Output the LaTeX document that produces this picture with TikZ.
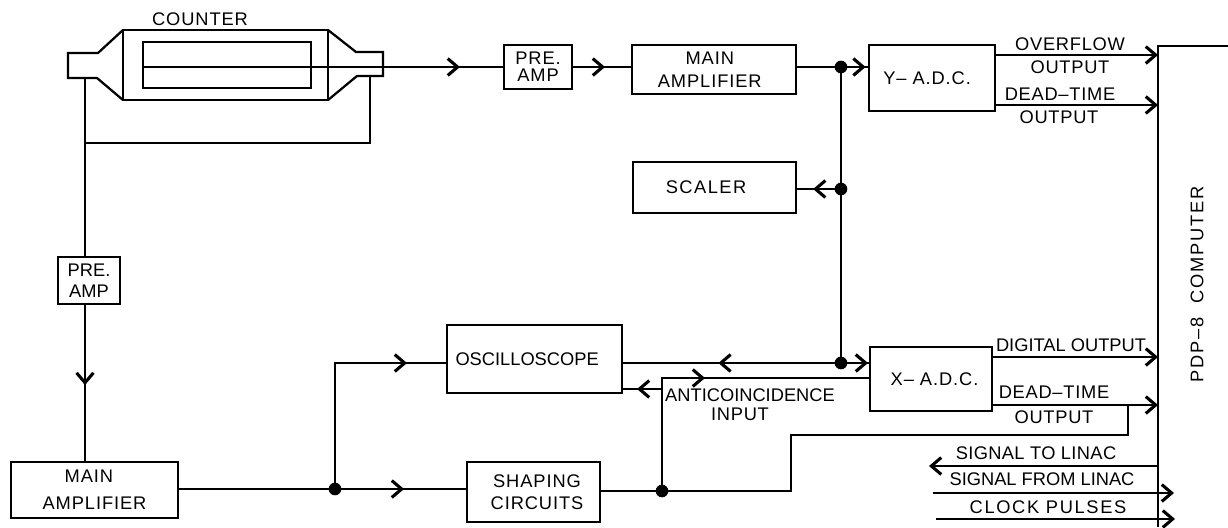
\documentclass[tikz,border=0pt]{standalone}
\usepackage{fontspec}
\setmainfont{Liberation Sans}
\usetikzlibrary{arrows.meta,decorations.markings}
\tikzset{
    txt/.style={font=\fontsize{13}{16}\selectfont, inner sep=0pt, align=center},
    wide/.style={txt, font=\fontsize{13}{16}\selectfont\addfontfeature{LetterSpace=#1}},
    box/.style={wide=5, draw, line width=1.6pt, outer sep=0pt},
    dot/.style={circle, fill=black, inner sep=0pt, minimum size=9pt},
    midtip/.style={postaction={decorate, decoration={markings, mark=at position #1 with {\arrow{>}}}}}
}

\begin{document}
\begin{tikzpicture}[x=0.025cm, y=-0.025cm, line width=1.6pt, line join=miter,
    >={Straight Barb[length=7pt, width=12pt, line width=2.2pt]}]
    \useasboundingbox (0,0) rectangle (1228,527);

    % counter
    \node[box, minimum width=5.125cm, minimum height=1.75cm] (counter) at (225.5,65) {};
    \node[box, minimum width=4.2cm, minimum height=1.15cm] (tube) at (227,65) {};
    \node[wide=5] (counterlabel) at (200,19) {COUNTER};
    \draw (counter.north west) -- (98,53) -- (68,53) -- (68,78) -- (97,78) -- (counter.south west);
    \draw (counter.north east) -- (356,52) -- (383,52) -- (383,76) -- (357,76) -- (counter.south east);

    % boxes
    \node[box, minimum width=1.7cm, minimum height=1.1cm] (preamptop) at (538,67) {PRE.\\[-4pt]AMP};
    \node[box, minimum width=4.1cm, minimum height=1.225cm] (mainamptop) at (714,69.5) {MAIN\hspace*{6pt}\\AMPLIFIER\hspace*{6pt}};
    \node[box, minimum width=3.15cm, minimum height=1.65cm] (yadc) at (932,78) {\raisebox{-3pt}{Y--\ A.D.C.}\hspace*{7pt}};
    \node[box, wide=8, minimum width=4.075cm, minimum height=1.275cm] (scaler) at (714.5,187.5) {SCALER\hspace*{12pt}};
    \node[box, txt, minimum width=4.375cm, minimum height=1.7cm] (osc) at (534.5,359) {\raisebox{-2pt}{OSCILLOSCOPE}\hspace*{10.5pt}};
    \node[box, minimum width=3.325cm, minimum height=1.5cm] (shaping) at (533.5,492) {\hspace*{5pt}SHAPING\\\hspace*{5pt}CIRCUITS};
    \node[box, minimum width=3.05cm, minimum height=1.6cm] (xadc) at (931,379) {\hspace*{5pt}X--\ A.D.C.};
    \node[box, minimum width=4.175cm, minimum height=1.4cm] (mainampleft) at (94.5,490) {MAIN\hspace*{8pt}\\[3pt]AMPLIFIER};
    \node[box, txt, minimum width=1.55cm, minimum height=1.175cm] (preampleft) at (89,280.5) {PRE.\\[-1pt]AMP};

    % junctions
    \node[dot] (jy) at (841,67) {};
    \node[dot] (js) at (841,189) {};
    \node[dot] (jx) at (841,363) {};
    \node[dot] (jm) at (335,489) {};
    \node[dot] (jc) at (662,491) {};
    \coordinate (jb) at (662,389);
    \coordinate (jd) at (1128,405);

    % computer edge
    \coordinate (comptop) at (1158,46);
    \coordinate (compright) at (1228,46);
    \coordinate (compbottom) at (1158,527);
    \draw (compright) -- (comptop) -- (compbottom);
    \node[wide=10, rotate=90] (pdp) at (1197,284) {PDP--8\ \ COMPUTER};

    % upper signal path
    \draw[midtip=0.878] (tube.west |- preamptop) -- (preamptop.west);
    \draw[midtip=0.55] (preamptop.east) -- (mainamptop.west |- preamptop);
    \draw (mainamptop.east |- jy) -- (jy.center);
    \draw[midtip=0.877] (jy.center) -- (yadc.west |- jy);
    \draw (jy.center) -- (jx.center);
    \draw[midtip=0.62] (js.center) -- (scaler.east |- js);

    % guard ring to lower path
    \coordinate (gl) at (85,78);
    \coordinate (gc) at (85,143);
    \coordinate (gr) at (370,143);
    \coordinate (gt) at (370,76);
    \draw (gt) -- (gr) -- (gc);
    \draw (gl) -- (preampleft.north -| gl);
    \draw[midtip=0.513] (preampleft.south -| gl) -- (mainampleft.north -| gl);
    \draw (mainampleft.east |- jm) -- (jm.center);
    \draw[midtip=0.523] (jm.center) -- (shaping.west |- jm);
    \draw[midtip=0.832] (jm.center) |- (osc.west |- jx);
    \draw[midtip=0.56] (jx.center) -- (osc.east |- jx);
    \draw[midtip=0.93] (jx.center) -- (xadc.west |- jx);
    \draw (shaping.east |- jc) -- (jc.center);
    \draw[midtip=0.486] (jc.center) |- (xadc.west |- 0,378);
    \draw[midtip=0.625] (jb) -- (osc.east |- jb);
    \draw (jc.center) -- (791,491) -- (791,435) -- (1128,435) -- (jd);

    % outputs
    \draw[->] (yadc.east |- 0,55) -- (comptop |- 0,55);
    \draw[->] (yadc.east |- 0,105) -- (comptop |- 0,105);
    \draw[->] (xadc.east |- 0,357) -- (comptop |- 0,357);
    \draw[->] (xadc.east |- jd) -- (comptop |- jd);
    \coordinate (toleft) at (929,466);
    \draw[->] (comptop |- toleft) -- (toleft);
    \coordinate (fromleft) at (933,493);
    \coordinate (fromright) at (1174,493);
    \draw[->] (fromleft) -- (fromright);
    \coordinate (clockleft) at (936,519);
    \coordinate (clockright) at (1175,519);
    \draw[->] (clockleft) -- (clockright);

    % labels
    \node[wide=4] (overflow) at (1070,44) {OVERFLOW};
    \node[wide=4] (ovfout) at (1070,67) {OUTPUT};
    \node[wide=4] (deady) at (1060,94) {DEAD--TIME};
    \node[wide=4] (deadyout) at (1059,117) {OUTPUT};
    \node[txt] (digital) at (1071,345) {DIGITAL OUTPUT};
    \node[wide=4] (deadx) at (1054,392) {DEAD--TIME};
    \node[wide=4] (deadxout) at (1054,417) {OUTPUT};
    \node[wide=2] (sigto) at (1036,453) {SIGNAL TO LINAC};
    \node[txt] (sigfrom) at (1042,479) {SIGNAL FROM LINAC};
    \node[wide=9] (clock) at (1048,507) {CLOCK PULSES};
    \node[txt] (anti) at (750,395) {ANTICOINCIDENCE};
    \node[wide=4] (input) at (740,414) {INPUT};
\end{tikzpicture}
\end{document}
